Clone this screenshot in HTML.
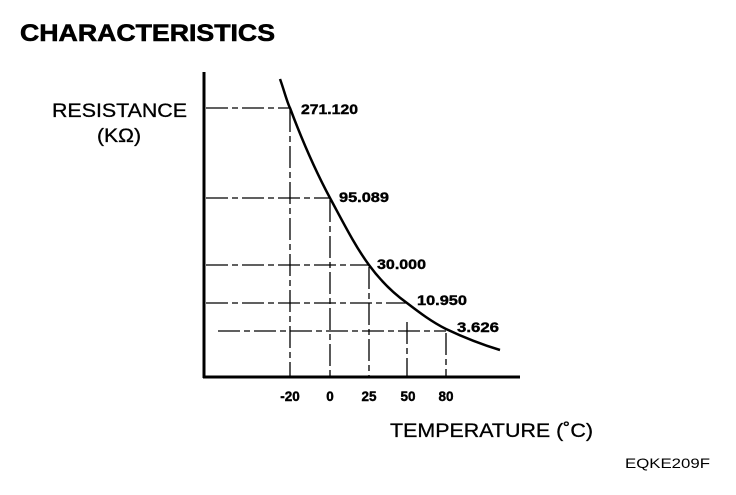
<!DOCTYPE html>
<html><head><style>
body{margin:0;background:#fff;}
svg text{font-family:"Liberation Sans",Arial,sans-serif;fill:#000;}
</style></head><body>
<svg width="736" height="490" viewBox="0 0 736 490" xmlns="http://www.w3.org/2000/svg">
<text x="20" y="41" font-size="24" font-weight="bold" textLength="255" lengthAdjust="spacingAndGlyphs" stroke="#000" stroke-width="0.6">CHARACTERISTICS</text>
<text x="52" y="117" font-size="19" textLength="135" lengthAdjust="spacingAndGlyphs" stroke="#000" stroke-width="0.3">RESISTANCE</text>
<text x="97" y="142" font-size="19" textLength="44" lengthAdjust="spacingAndGlyphs" stroke="#000" stroke-width="0.3">(KΩ)</text>
<text x="390" y="437" font-size="19" textLength="203" lengthAdjust="spacingAndGlyphs" stroke="#000" stroke-width="0.3">TEMPERATURE (˚C)</text>
<text x="625" y="468" font-size="14" textLength="85" lengthAdjust="spacingAndGlyphs">EQKE209F</text>
<g stroke="#000" fill="none">
<line x1="204" y1="72" x2="204" y2="378" stroke-width="3"/>
<line x1="203" y1="377" x2="520" y2="377" stroke-width="3"/>
<g stroke-width="1.3" stroke-dasharray="22,4,6,4">
<line x1="206" y1="108" x2="289" y2="108"/>
<line x1="206" y1="198" x2="330" y2="198"/>
<line x1="206" y1="265" x2="369" y2="265"/>
<line x1="206" y1="303" x2="407" y2="303"/>
<line x1="218" y1="331" x2="446" y2="331"/>
<line x1="290" y1="110" x2="290" y2="376"/>
<line x1="330" y1="200" x2="330" y2="376"/>
<line x1="369" y1="267" x2="369" y2="376"/>
<line x1="407" y1="322" x2="407" y2="376"/>
<line x1="446" y1="333" x2="446" y2="376"/>
</g>
<path d="M280,79 C284,90 287,102 290,108 C302,140 315,170 330,198 C343,222 355,246 369,265 C380,280 393,293 407,303 C420,313 432,322 446,329 C465,338 480,344 500,350" stroke-width="2.5"/>
</g>
<g font-size="13.5" font-weight="bold" stroke="#000" stroke-width="0.4">
<text x="301" y="114" textLength="57" lengthAdjust="spacingAndGlyphs">271.120</text>
<text x="339" y="202" textLength="50" lengthAdjust="spacingAndGlyphs">95.089</text>
<text x="377" y="269" textLength="49" lengthAdjust="spacingAndGlyphs">30.000</text>
<text x="417" y="305" textLength="50" lengthAdjust="spacingAndGlyphs">10.950</text>
<text x="457" y="332" textLength="42" lengthAdjust="spacingAndGlyphs">3.626</text>
<g text-anchor="middle">
<text x="290" y="401">-20</text>
<text x="330" y="401">0</text>
<text x="369" y="401">25</text>
<text x="408" y="401">50</text>
<text x="446" y="401">80</text>
</g></g>
</svg>
</body></html>
